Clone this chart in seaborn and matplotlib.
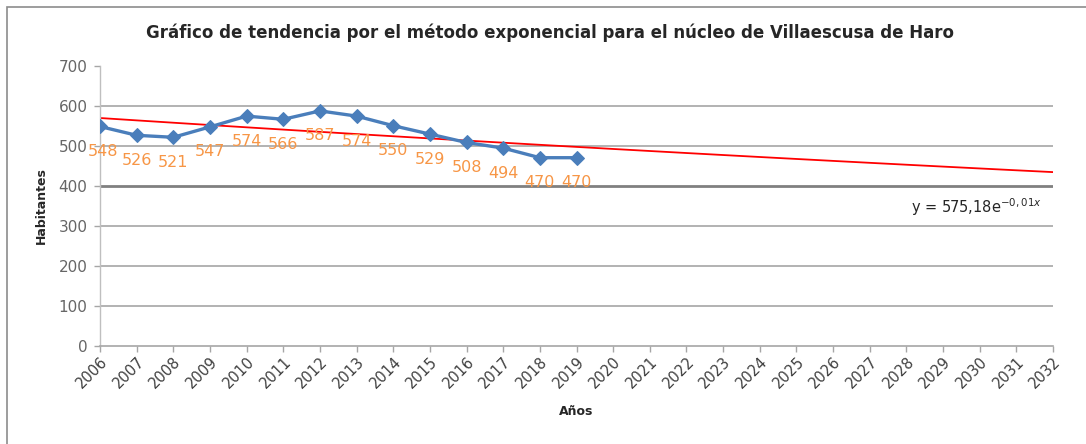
import numpy as np
import pandas as pd
import matplotlib
matplotlib.use("Agg")
import matplotlib.pyplot as plt
import seaborn as sns
from matplotlib.patches import Rectangle

# Datos del núcleo
anios = [2006, 2007, 2008, 2009, 2010, 2011, 2012, 2013, 2014, 2015, 2016, 2017, 2018, 2019]
habitantes = [548, 526, 521, 547, 574, 566, 587, 574, 550, 529, 508, 494, 470, 470]
anios_eje = list(range(2006, 2033))
y_ticks = [0, 100, 200, 300, 400, 500, 600, 700]

df = pd.DataFrame({"Años": anios, "Habitantes": habitantes})

# Tendencia exponencial ajustada a los datos (como hace Excel)
x_idx = np.arange(1, len(habitantes) + 1)
b, ln_a = np.polyfit(x_idx, np.log(habitantes), 1)
x_tend = np.arange(1, len(anios_eje) + 1)
tendencia = np.exp(ln_a) * np.exp(b * x_tend)

sns.set_style("white")
plt.rcParams['font.family'] = ['DejaVu Sans']

fig = plt.figure(figsize=(10.86, 4.44), dpi=100)
ax = fig.add_axes([100 / 1086, 1 - 345.7 / 444, 953 / 1086, 280 / 444])

# líneas de cuadrícula
for y in y_ticks[1:-1]:
    if y == 400:
        ax.axhline(y, color='#808080', lw=2, zorder=1)
    else:
        ax.axhline(y, color='#A6A6A6', lw=1.2, zorder=1)

ax.plot(anios_eje, tendencia, color='#FF0000', lw=1.3, zorder=2)

sns.lineplot(data=df, x="Años", y="Habitantes", ax=ax, color='#4A7EBB', lw=2.4,
             marker='D', markersize=7.5, markeredgecolor='#4A7EBB', zorder=3)

for i, (x, y) in enumerate(zip(anios, habitantes)):
    dx = 2 if i == 0 else 0
    ax.annotate(str(y), (x, y), xytext=(dx, -18), textcoords='offset points',
                ha='center', va='center', color='#F79646', fontsize=11.5, zorder=4)

ax.set_xlim(2006, 2032)
ax.set_ylim(0, 700)
ax.set_xticks(anios_eje)
ax.set_xticklabels([str(a) for a in anios_eje], rotation=45, ha='right',
                   rotation_mode='anchor', fontsize=10.5, color='#404040')
ax.set_yticks(y_ticks)
ax.set_yticklabels([str(v) for v in y_ticks], fontsize=11, color='#666666')
ax.tick_params(axis='both', length=4, color='#A6A6A6', width=1, direction='out',
               bottom=True, left=True)
ax.tick_params(axis='x', pad=2)
ax.tick_params(axis='y', pad=5)

for side in ['top', 'right']:
    ax.spines[side].set_visible(False)
ax.spines['left'].set_color('#BFBFBF')
ax.spines['bottom'].set_color('#A6A6A6')
ax.spines['left'].set_linewidth(1)
ax.spines['bottom'].set_linewidth(1.2)

ax.set_xlabel('Años', fontsize=9, fontweight='bold', labelpad=10)
ax.set_ylabel('Habitantes', fontsize=9, fontweight='bold', labelpad=8)

ax.text(2031.7, 347, 'y = 575,18e$^{-0,01x}$', ha='right', va='center',
        fontsize=10.5, color='#262626')

fig.text(550 / 1086, 1 - 33 / 444,
         'Gráfico de tendencia por el método exponencial para el núcleo de Villaescusa de Haro',
         ha='center', va='center', fontsize=12, fontweight='bold')

# marco del gráfico
fig.patches.append(Rectangle((7 / 1086, -0.1), 1.2, 1.1 - 7 / 444, transform=fig.transFigure,
                             fill=False, edgecolor='#8C8C8C', lw=1.2))

fig.savefig('out.png', dpi=100)
